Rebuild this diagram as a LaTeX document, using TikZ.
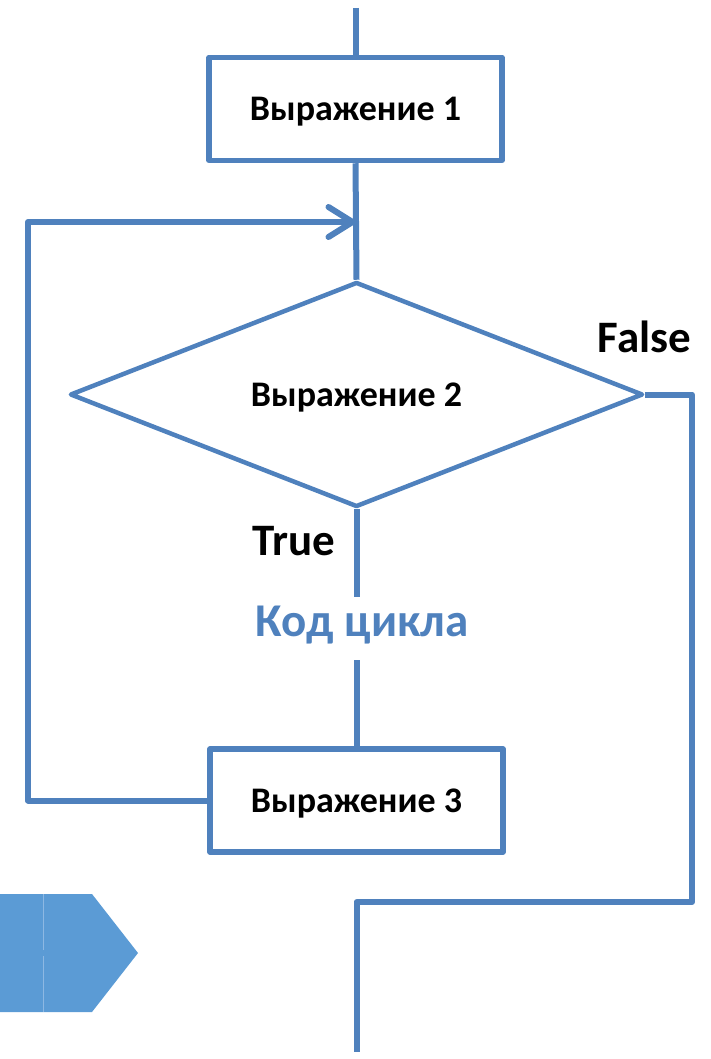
\documentclass[tikz,border=0pt]{standalone}
\usepackage{fontspec}
\setmainfont{Carlito}
\usetikzlibrary{shapes.geometric,arrows.meta}
\definecolor{lineblue}{HTML}{4F81BD}
\definecolor{fillblue}{HTML}{5B9BD5}
\definecolor{seamblue}{HTML}{8DB8E3}
\tikzset{
  flowline/.style={draw=lineblue, line width=6pt, line join=round},
  procbox/.style={draw=lineblue, line width=5.5pt, line join=round, fill=white, rectangle,
    minimum width=293pt, minimum height=103pt, inner sep=0pt, text height=23pt, text depth=0pt,
    font=\fontsize{36}{42}\selectfont\bfseries},
  decision/.style={draw=lineblue, line width=4.5pt, line join=round, fill=white, diamond,
    aspect=2.5, minimum width=573pt, minimum height=225pt, inner sep=0pt, text height=23pt, text depth=0pt,
    font=\fontsize{36}{42}\selectfont\bfseries},
  branchlabel/.style={anchor=base, inner sep=0pt, font=\fontsize{45}{50}\selectfont\bfseries},
  codelabel/.style={anchor=base, inner sep=0pt, text=lineblue, font=\fontsize{47}{52}\selectfont\bfseries},
  loopbarb/.style={-{Straight Barb[length=24pt, width=30pt, line width=6pt, round]}}
}
\begin{document}
\begin{tikzpicture}[x=1pt, y=-1pt]
\useasboundingbox (0,0) rectangle (710,1059);
% bottom-left navigation shape
\fill[fillblue] (0,894) -- (92,894) -- (138,953) -- (92,1012) -- (0,1012) -- cycle;
\draw[seamblue, line width=1pt] (43,894) -- (43,950);
\draw[seamblue, line width=1pt] (43,956) -- (43,1012);

% nodes
\node[procbox] (e1) at (355.5,109) {Выражение 1};
\node[decision] (e2) at (356.5,394.5) {Выражение 2};
\node[procbox] (e3) at (356.5,800.5) {Выражение 3};
\node[codelabel] (code) at (362,636) {Код цикла};
\node[branchlabel] (truel) at (293.5,555) {True};
\node[branchlabel] (falsel) at (644.5,352) {False};

% coordinates
\coordinate (start) at (355.5,8);
\coordinate (join) at (355.5,222);
\coordinate (trueend) at (356.5,597);
\coordinate (codeout) at (356.5,660);
\coordinate (loopbl) at (28,800.5);
\coordinate (looptl) at (28,222);
\coordinate (fr) at (692,394.5);
\coordinate (frb) at (692,902);
\coordinate (exitc) at (356.5,902);
\coordinate (exitend) at (356.5,1052);

% connectors
\draw[flowline] (start) -- (e1.north);
\draw[flowline] (e1.south) -- (e2.north);
\draw[flowline] (e2.south) -- (trueend);
\draw[flowline] (codeout) -- (e3.north);
\draw[flowline, loopbarb] (e3.west) -- (loopbl) -- (looptl) -- (join);
\draw[flowline] (e2.east) -- (fr) -- (frb) -- (exitc) -- (exitend);
\end{tikzpicture}
\end{document}
